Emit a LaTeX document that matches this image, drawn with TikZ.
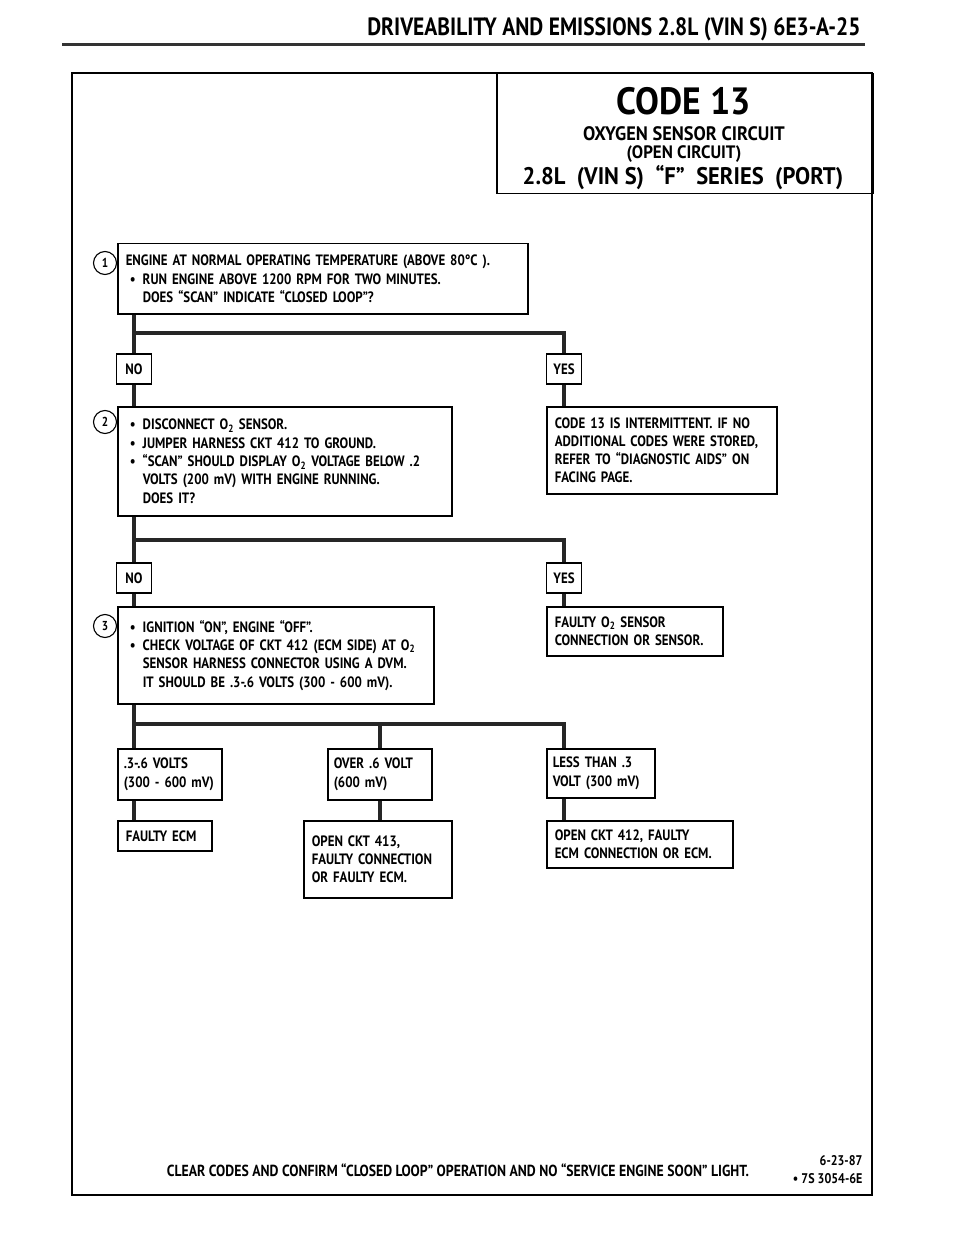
\documentclass[tikz,border=0pt]{standalone}
\usepackage{fontspec}
\setmainfont{PT Sans}[FakeStretch=0.86]
\newfontfamily\titlefont{PT Sans}[FakeStretch=0.94, Ligatures=TeX]
\usetikzlibrary{positioning}

% bullet item and continuation indent inside the boxes
\newcommand{\bul}{\hspace*{4pt}\makebox[13pt][l]{\textbullet}}
\newcommand{\ind}{\hspace*{17pt}}
\newcommand{\Otwo}{O\textsubscript{2}}

\begin{document}
\begin{tikzpicture}[x=1pt, y=-1pt,
    txt/.style={font=\bfseries\fontsize{15}{18.3}\selectfont},
    box/.style={txt, draw, line width=1.5pt, anchor=north west, inner xsep=8pt, inner ysep=0pt, align=left},
    tag/.style={txt, draw, line width=1.5pt, minimum width=35pt, minimum height=30pt, inner sep=0pt},
    num/.style={circle, draw, line width=1.1pt, minimum size=23pt, inner sep=0pt, font=\bfseries\fontsize{13}{13}\selectfont},
    conn/.style={line width=4pt, black!85}]

    \useasboundingbox (0,0) rectangle (960,1238);

    % Page header
    \node[anchor=east, font=\bfseries\fontsize{25}{25}\selectfont] (head) at (864,29) {DRIVEABILITY AND EMISSIONS 2.8L (VIN S) 6E3-A-25};
    \draw[line width=3pt, black!80] (62,45) -- (865,45);

    % Frame and title
    \draw[line width=2.5pt] (72,73) rectangle (872,1195);
    \node[draw, line width=1.5pt, anchor=north west, minimum width=376pt, minimum height=120pt, inner sep=0pt] (title) at (496,73) {};
    \node[font=\titlefont\bfseries\fontsize{38}{38}\selectfont] (code) at (684,101) {CODE 13};
    \node[font=\titlefont\bfseries\fontsize{19.5}{19.5}\selectfont] (sub) at (684,134) {OXYGEN SENSOR CIRCUIT};
    \node[font=\titlefont\bfseries\fontsize{18}{18}\selectfont] (open) at (684,154) {(OPEN CIRCUIT)};
    \node[font=\titlefont\bfseries\fontsize{24}{24}\selectfont] (eng) at (683,178) {2.8L \ (VIN S) \ “F” \ SERIES \ (PORT)};

    % Step 1
    \node[box, text width=394pt, minimum height=70pt] (q1) at (117,243)
        {ENGINE AT NORMAL OPERATING TEMPERATURE (ABOVE 80°C ).\\
         \bul RUN ENGINE ABOVE 1200 RPM FOR TWO MINUTES.\\
         \ind DOES ``SCAN'' INDICATE ``CLOSED LOOP''?};
    \node[num] (n1) at (105,263) {1};

    \node[tag] (no1) at (134,369) {NO};
    \node[tag] (yes1) at (564,369) {YES};

    % Step 2
    \node[box, text width=318pt, minimum height=109pt] (q2) at (117,406)
        {\bul DISCONNECT \Otwo{} SENSOR.\\
         \bul JUMPER HARNESS CKT 412 TO GROUND.\\
         \bul ``SCAN''  SHOULD DISPLAY \Otwo{} VOLTAGE BELOW .2\\
         \ind VOLTS  (200 mV) WITH ENGINE RUNNING.\\
         \ind DOES IT?};
    \node[num] (n2) at (105,422) {2};
    \node[box, text width=214pt, minimum height=87pt] (ok1) at (546,406)
        {CODE 13 IS INTERMITTENT.  IF NO\\
         ADDITIONAL CODES WERE STORED,\\
         REFER TO  ``DIAGNOSTIC AIDS'' ON\\
         FACING PAGE.};

    \node[tag] (no2) at (134,578) {NO};
    \node[tag] (yes2) at (564,578) {YES};

    % Step 3
    \node[box, text width=300pt, minimum height=97pt] (q3) at (117,606)
        {\bul IGNITION ``ON'', ENGINE  ``OFF''.\\
         \bul CHECK VOLTAGE OF CKT 412 (ECM SIDE) AT \Otwo\\
         \ind SENSOR HARNESS CONNECTOR USING A DVM.\\
         \ind IT SHOULD BE  .3-.6 VOLTS (300 - 600 mV).};
    \node[num] (n3) at (105,626) {3};
    \node[box, text width=160pt, minimum height=49pt] (ok2) at (546,606)
        {FAULTY \Otwo{} SENSOR\\
         CONNECTION OR SENSOR.};

    % Readings
    \node[box, inner xsep=6pt, text width=92pt, minimum height=51pt] (v1) at (117,748)
        {.3-.6 VOLTS\\(300 - 600 mV)};
    \node[box, inner xsep=6pt, text width=92pt, minimum height=51pt] (v2) at (327,748)
        {OVER  .6  VOLT\\ (600 mV)};
    \node[box, inner xsep=6pt, text width=96pt, minimum height=49pt] (v3) at (546,748)
        {LESS THAN .3\\VOLT  (300 mV)};

    % Results
    \node[box, text width=78pt, minimum height=30pt] (r1) at (117,820) {FAULTY ECM};
    \node[box, text width=132pt, minimum height=77pt] (r2) at (303,820)
        {OPEN CKT 413,\\FAULTY CONNECTION\\OR FAULTY ECM.};
    \node[box, text width=170pt, minimum height=47pt] (r3) at (546,820)
        {OPEN CKT  412, FAULTY\\ECM CONNECTION OR ECM.};

    % Footer
    \node[font=\bfseries\fontsize{16}{16}\selectfont] (clear) at (458,1170) {CLEAR CODES AND CONFIRM ``CLOSED LOOP''  OPERATION AND NO ``SERVICE ENGINE SOON'' LIGHT.};
    \node[anchor=east, font=\bfseries\fontsize{14}{14}\selectfont] (date) at (866,1161) {6-23-87};
    \node[anchor=east, font=\bfseries\fontsize{14}{14}\selectfont] (fig) at (866,1179) {\textbullet{} 7S 3054-6E};

    % Connectors
    \coordinate (bar1) at (0,333);
    \coordinate (bar2) at (0,540);
    \coordinate (bar3) at (0,724);
    \draw[conn] (q1.south -| no1) -- (no1.north);
    \draw[conn] (no1 |- bar1) -- (yes1 |- bar1) -- (yes1.north);
    \draw[conn] (no1.south) -- (no1 |- q2.north);
    \draw[conn] (yes1.south) -- (yes1 |- ok1.north);
    \draw[conn] (q2.south -| no2) -- (no2.north);
    \draw[conn] (no2 |- bar2) -- (yes2 |- bar2) -- (yes2.north);
    \draw[conn] (no2.south) -- (no2 |- q3.north);
    \draw[conn] (yes2.south) -- (yes2 |- ok2.north);
    \draw[conn] (q3.south -| no2) -- (no2 |- v1.north);
    \draw[conn] (no2 |- bar3) -- (yes2 |- bar3) -- (yes2 |- v3.north);
    \draw[conn] (v2 |- bar3) -- (v2.north);
    \draw[conn] (no2 |- v1.south) -- (no2 |- r1.north);
    \draw[conn] (v2.south) -- (v2 |- r2.north);
    \draw[conn] (yes2 |- v3.south) -- (yes2 |- r3.north);

\end{tikzpicture}
\end{document}
